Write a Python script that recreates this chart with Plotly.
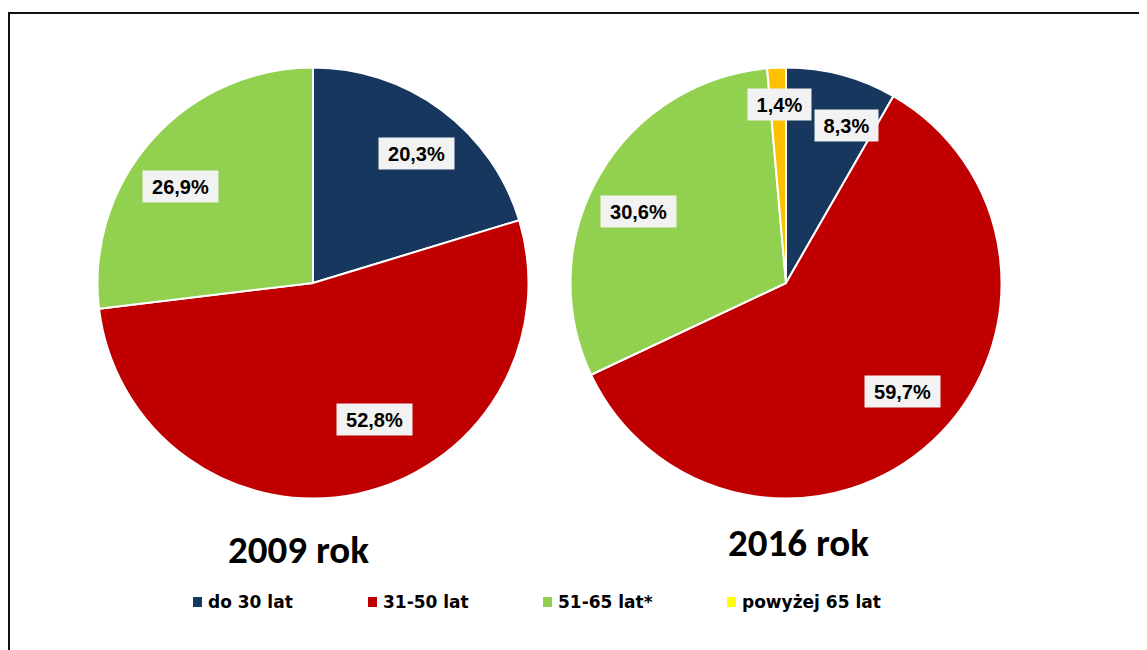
"""Age structure, 2009 vs 2016: two pies with boxed percentage labels."""

import math

import plotly.graph_objects as go

CATEGORIES = ["do 30 lat", "31-50 lat", "51-65 lat*", "powyżej 65 lat"]
SLICE_COLORS = ["#17375E", "#C00000", "#92D050", "#FFC000"]
LEGEND_COLORS = ["#17375E", "#C00000", "#92D050", "#FFFF00"]

YEARS = ["2009 rok", "2016 rok"]
SHARE_2009 = [20.3, 52.8, 26.9]
SHARE_2016 = [8.3, 59.7, 30.6, 1.4]

W, H = 1147, 650
PAGE = 8  # default body margin of the page, figure starts at (8, 8)

# pie geometry in screen pixels (centre x, centre y, radius)
PIES = [(313, 283, 215.5), (786, 283, 215.5)]
LABEL_R = 0.77
# small pixel nudges so the boxes sit where the source placed them
NUDGE = [
    [(5, 4), (27, -26), (-8, 14)],
    [(18, 3), (4, -14), (-4, 11), (1, -13)],
]
TITLE_POS = [(298, 549), (798, 542)]
LEGEND_X = [193, 368, 543, 727]
LEGEND_Y = 602

LABEL_FONT = dict(family="Arial, Liberation Sans, sans-serif", size=20, color="#000000")
TITLE_FONT = dict(family="Carlito, Lato, sans-serif", size=39, color="#000000")
LEGEND_FONT = dict(family="DejaVu Sans, sans-serif", size=17, color="#000000")


def px(x, y):
    """Screen pixel -> paper fraction."""
    return (x - PAGE) / W, 1 - (y - PAGE) / H


def pct(v):
    return f"{v:.1f}".replace(".", ",") + "%"


fig = go.Figure()
annotations = []
shapes = []

for i, shares in enumerate([SHARE_2009, SHARE_2016]):
    cx, cy, r = PIES[i]
    x0, y1 = px(cx - r, cy - r)
    x1, y0 = px(cx + r, cy + r)
    fig.add_pie(
        values=shares,
        labels=CATEGORIES[: len(shares)],
        marker=dict(colors=SLICE_COLORS[: len(shares)], line=dict(color="white", width=2)),
        sort=False,
        direction="clockwise",
        rotation=0,
        textinfo="none",
        hoverinfo="label+percent",
        showlegend=False,
        domain=dict(x=[x0, x1], y=[y0, y1]),
    )

    total = sum(shares)
    cum = 0.0
    for j, v in enumerate(shares):
        mid = (cum + v / 2) / total * 2 * math.pi
        cum += v
        lx = cx + LABEL_R * r * math.sin(mid) + NUDGE[i][j][0]
        ly = cy - LABEL_R * r * math.cos(mid) + NUDGE[i][j][1]
        ax, ay = px(lx, ly)
        text = pct(v)
        annotations.append(
            dict(
                x=ax, y=ay, xref="paper", yref="paper",
                text=f"<b>{text}</b>", showarrow=False,
                font=LABEL_FONT, bgcolor="#F2F2F2",
                width=12 * len(text) + 15, height=31, borderpad=0,
                xanchor="center", yanchor="middle",
            )
        )

    tx, ty = px(*TITLE_POS[i])
    annotations.append(
        dict(
            x=tx, y=ty, xref="paper", yref="paper", text=f"<b>{YEARS[i]}</b>",
            showarrow=False, font=TITLE_FONT, xanchor="center", yanchor="middle",
        )
    )

# hand-made legend: the source legend swatch for the last group is pure yellow
for k, name in enumerate(CATEGORIES):
    sx = LEGEND_X[k]
    qx0, qy1 = px(sx, LEGEND_Y - 5)
    qx1, qy0 = px(sx + 9, LEGEND_Y + 5)
    shapes.append(
        dict(
            type="rect", xref="paper", yref="paper",
            x0=qx0, x1=qx1, y0=qy0, y1=qy1,
            fillcolor=LEGEND_COLORS[k], line=dict(width=0),
        )
    )
    lx, ly = px(sx + 13, LEGEND_Y)
    annotations.append(
        dict(
            x=lx, y=ly, xref="paper", yref="paper", text=f"<b>{name}</b>",
            showarrow=False, font=LEGEND_FONT, xanchor="left", yanchor="middle",
        )
    )

# outer frame, running off the right and bottom edges like the source crop
fx0, fy1 = px(9, 13)
shapes.append(
    dict(
        type="rect", xref="paper", yref="paper",
        x0=fx0, x1=1.02, y0=-0.05, y1=fy1,
        line=dict(color="#111111", width=2), fillcolor="rgba(0,0,0,0)",
    )
)

fig.update_layout(
    width=W,
    height=H,
    autosize=False,
    margin=dict(l=0, r=0, t=0, b=0),
    paper_bgcolor="white",
    plot_bgcolor="white",
    annotations=annotations,
    shapes=shapes,
)

fig.write_html("out.html")
